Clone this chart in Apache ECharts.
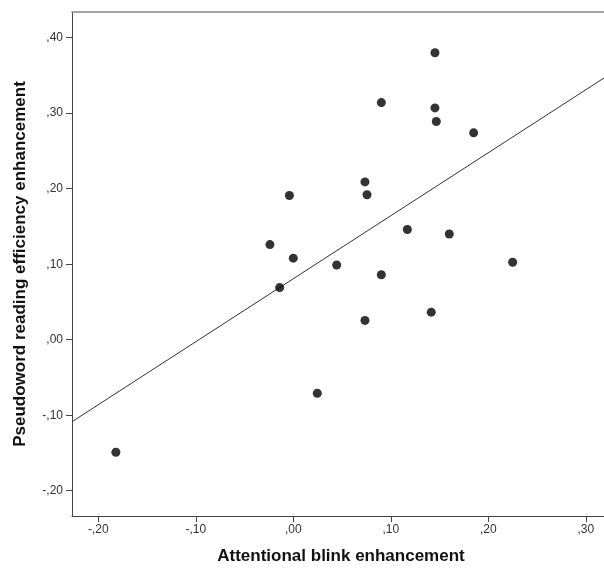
<!DOCTYPE html>
<html>
<head>
<meta charset="utf-8">
<script src="https://cdn.jsdelivr.net/npm/echarts@6/dist/echarts.min.js"></script>
<style>
html,body{margin:0;padding:0;background:#fff;}
#chart{width:604px;height:570px;}
</style>
</head>
<body>
<div id="chart"></div>
<script>
// Data
const blinkEnhancement = [-0.182, -0.024, -0.014, -0.004, 0.000, 0.0246, 0.0445, 0.0735, 0.0756, 0.0735,
  0.0903, 0.0903, 0.117, 0.1415, 0.1453, 0.1453, 0.1467, 0.160, 0.185, 0.225];
const readingEnhancement = [-0.149, 0.126, 0.069, 0.191, 0.108, -0.071, 0.099, 0.209, 0.192, 0.0255,
  0.314, 0.086, 0.146, 0.0365, 0.380, 0.307, 0.289, 0.140, 0.274, 0.1025];
const fitLineX = [-0.227, 0.3187];
const fitLineY = [-0.1086, 0.3466];
const xTickValues = [-0.2, -0.1, 0, 0.1, 0.2, 0.3];
const xTickLabels = ['-,20', '-,10', ',00', ',10', ',20', ',30'];
const yTickValues = [-0.2, -0.1, 0, 0.1, 0.2, 0.3, 0.4];
const yTickLabels = ['-,20', '-,10', ',00', ',10', ',20', ',30', ',40'];
const xTitle = 'Attentional blink enhancement';
const yTitle = 'Pseudoword reading efficiency enhancement';

const points = blinkEnhancement.map((x, i) => [x, readingEnhancement[i]]);
const linePts = fitLineX.map((x, i) => [x, fitLineY[i]]);

function labelFor(values, labels) {
  return function (v) {
    for (let i = 0; i < values.length; i++) {
      if (Math.abs(values[i] - v) < 1e-6) return labels[i];
    }
    return '';
  };
}

const FONT = '"Liberation Sans", Arial, sans-serif';
const chart = echarts.init(document.getElementById('chart'), null, {renderer: 'canvas'});
chart.setOption({
  animation: false,
  backgroundColor: '#ffffff',
  grid: {left: 72, top: 12, right: 0, bottom: 52, containLabel: false},
  xAxis: [{
    type: 'value',
    min: -0.227, max: 0.3187,
    splitLine: {show: false},
    axisLine: {show: true, onZero: false, lineStyle: {color: '#444', width: 1}},
    axisTick: {show: true, length: 6, customValues: xTickValues, lineStyle: {color: '#444'}},
    axisLabel: {show: true, customValues: xTickValues, formatter: labelFor(xTickValues, xTickLabels),
      color: '#333', fontFamily: FONT, fontSize: 12, margin: 8},
    name: xTitle,
    nameLocation: 'middle',
    nameGap: 32,
    nameTextStyle: {color: '#111', fontFamily: FONT, fontWeight: 'bold', fontSize: 17, padding: [0, 0, 0, 6]}
  }, {
    type: 'value',
    position: 'top',
    min: -0.227, max: 0.3187,
    splitLine: {show: false},
    axisLine: {show: true, onZero: false, lineStyle: {color: '#888', width: 1.5}},
    axisTick: {show: false},
    axisLabel: {show: false}
  }],
  yAxis: {
    type: 'value',
    min: -0.2335, max: 0.434,
    splitLine: {show: false},
    axisLine: {show: true, onZero: false, lineStyle: {color: '#444', width: 1}},
    axisTick: {show: true, length: 6, customValues: yTickValues, lineStyle: {color: '#444'}},
    axisLabel: {show: true, customValues: yTickValues, formatter: labelFor(yTickValues, yTickLabels),
      color: '#333', fontFamily: FONT, fontSize: 12, margin: 9},
    name: yTitle,
    nameLocation: 'middle',
    nameGap: 43,
    nameTextStyle: {color: '#111', fontFamily: FONT, fontWeight: 'bold', fontSize: 17}
  },
  series: [{
    type: 'line',
    xAxisIndex: 0,
    data: linePts,
    showSymbol: false,
    silent: true,
    lineStyle: {color: '#333', width: 1},
    z: 1
  }, {
    type: 'scatter',
    xAxisIndex: 0,
    data: points,
    symbol: 'circle',
    symbolSize: 9,
    itemStyle: {color: '#000'},
    z: 2
  }]
});
</script>
</body>
</html>
